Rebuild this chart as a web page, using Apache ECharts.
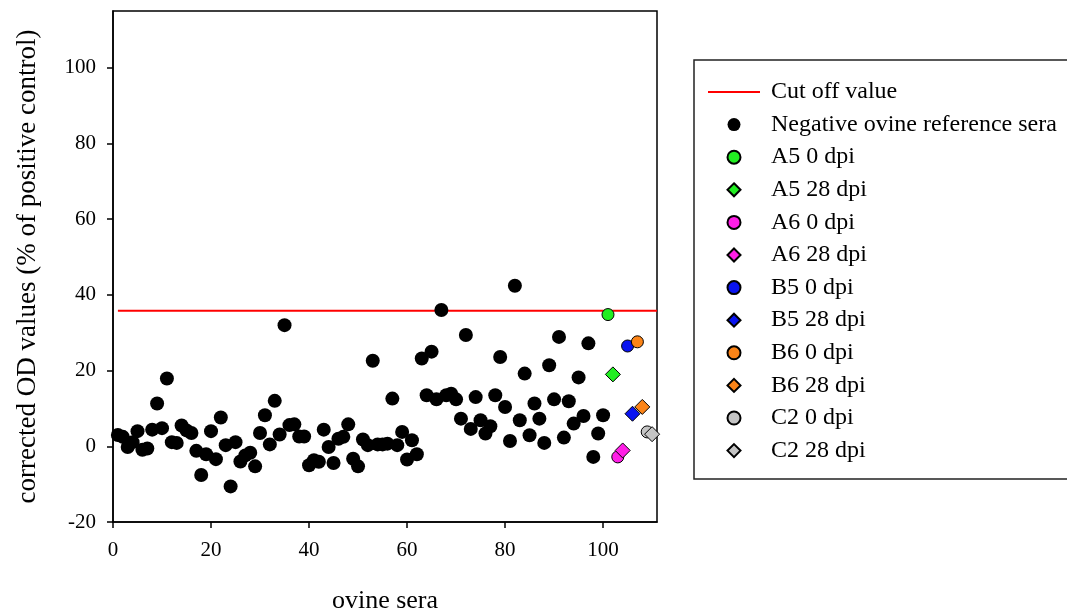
<!DOCTYPE html>
<html>
<head>
    <meta charset="utf-8">
    <title>ovine sera</title>
    <script src="https://cdn.jsdelivr.net/npm/echarts@6/dist/echarts.min.js"></script>
</head>
<body style="margin:0">
    <div id="main" style="width:1067px;height:612px;"></div>
    <script type="text/javascript">
        // negative reference sera, serum no. 1..100
        var negValues = [
            3, 2.5, -0.2, 1.1, 4, -0.9, -0.6, 4.4, 11.3, 4.8,
            17.9, 1.1, 0.9, 5.5, 4.2, 3.5, -1.2, -7.6, -2.1, 4,
            -3.4, 7.6, 0.3, -10.6, 1.1, -4, -2.4, -1.7, -5.3, 3.5,
            8.2, 0.5, 12, 3.1, 32, 5.6, 5.8, 2.6, 2.6, -5,
            -3.7, -4.1, 4.4, -0.2, -4.4, 2, 2.5, 5.8, -3.3, -5.3,
            1.8, 0.3, 22.6, 0.5, 0.5, 0.7, 12.6, 0.3, 3.8, -3.5,
            1.6, -2.1, 23.2, 13.5, 25, 12.4, 36, 13.5, 13.9, 12.4,
            7.3, 29.4, 4.6, 13, 6.9, 3.4, 5.3, 13.5, 23.6, 10.4,
            1.4, 42.4, 6.9, 19.2, 2.9, 11.3, 7.3, 0.9, 21.4, 12.4,
            28.9, 2.3, 11.9, 6, 18.2, 8, 27.2, -2.8, 3.4, 8.2
        ];

        // test animals
        var sampleNames = ['A5 0 dpi', 'A5 28 dpi', 'A6 0 dpi', 'A6 28 dpi', 'B5 0 dpi',
                           'B5 28 dpi', 'B6 0 dpi', 'B6 28 dpi', 'C2 0 dpi', 'C2 28 dpi'];
        var sampleX = [101, 102, 103, 104, 105, 106, 107, 108, 109, 110];
        var sampleY = [34.8, 19, -2.8, -1.1, 26.5, 8.6, 27.6, 10.4, 3.8, 3.2];

        var cutOff = 35.8;
        var cutOffRange = [1, 111];

        var xTicks = [0, 20, 40, 60, 80, 100];
        var yTicks = [-20, 0, 20, 40, 60, 80, 100];

        // styles
        var sampleColors = ['#22ee22', '#22ee22', '#ff1ee6', '#ff1ee6', '#0a14f0',
                            '#0a14f0', '#fb8418', '#fb8418', '#c4c4c4', '#c4c4c4'];
        var FONT = 'Liberation Serif';

        var myChart = echarts.init(document.getElementById('main'));

        var series = [{
            name: 'Cut off value',
            type: 'line',
            symbol: 'none',
            silent: true,
            data: cutOffRange.map(function (x) { return [x, cutOff]; }),
            lineStyle: { color: '#ff0000', width: 2 },
            itemStyle: { color: '#ff0000' },
            z: 1
        }, {
            name: 'Negative ovine reference sera',
            type: 'scatter',
            symbol: 'circle',
            symbolSize: 14,
            data: negValues.map(function (v, i) { return [i + 1, v]; }),
            itemStyle: { color: '#000', opacity: 1 },
            z: 2
        }];

        var legendData = [
            { name: 'Cut off value', icon: 'path://M0,0H52V2H0Z' },
            { name: 'Negative ovine reference sera' }
        ];

        for (var i = 0; i < sampleNames.length; i++) {
            var isDay0 = i % 2 === 0;
            series.push({
                name: sampleNames[i],
                type: 'scatter',
                symbol: isDay0 ? 'circle' : 'diamond',
                symbolSize: isDay0 ? 12 : 15,
                symbolKeepAspect: true,
                data: [[sampleX[i], sampleY[i]]],
                itemStyle: { color: sampleColors[i], borderColor: '#000', borderWidth: 1, opacity: 1 },
                z: 3
            });
            legendData.push({ name: sampleNames[i], icon: isDay0 ? 'circle' : 'path://M7,0L14,7L7,14L0,7Z' });
        }

        var option = {
            backgroundColor: '#fff',
            animation: false,
            grid: {
                left: 113, right: 410, top: 11, bottom: 90,
                outerBoundsMode: 'none',
                containLabel: false,
                show: true, borderColor: '#000', borderWidth: 1.5, backgroundColor: 'transparent'
            },
            legend: {
                orient: 'vertical',
                left: 708,
                top: 80,
                padding: 0,
                itemWidth: 52,
                itemHeight: 13,
                itemGap: 8.6,
                symbolKeepAspect: true,
                selectedMode: false,
                textStyle: { fontFamily: FONT, fontSize: 24, color: '#000', width: 240, overflow: 'none', padding: [0, 0, 0, 6] },
                data: legendData
            },
            graphic: [{
                type: 'rect',
                shape: { x: 694, y: 60, width: 420, height: 419 },
                style: { fill: 'none', stroke: '#222', lineWidth: 1.5 },
                silent: true
            }],
            xAxis: {
                type: 'value',
                min: 0,
                max: 111,
                name: 'ovine sera',
                nameLocation: 'middle',
                nameGap: 66,
                nameTextStyle: { fontFamily: FONT, fontSize: 26, color: '#000' },
                axisLine: { onZero: false, lineStyle: { color: '#000', width: 1.5 } },
                axisTick: { show: true, length: 6, customValues: xTicks, lineStyle: { color: '#000', width: 1.5 } },
                axisLabel: { customValues: xTicks, margin: 18, fontFamily: FONT, fontSize: 21, color: '#000' },
                splitLine: { show: false }
            },
            yAxis: {
                type: 'value',
                min: -20,
                max: 115,
                name: 'corrected OD values (% of positive control)',
                nameLocation: 'middle',
                nameRotate: 90,
                nameGap: 72,
                nameTextStyle: { fontFamily: FONT, fontSize: 27, color: '#000' },
                axisLine: { onZero: false, lineStyle: { color: '#000', width: 1.5 } },
                axisTick: { show: true, length: 6, customValues: yTicks, lineStyle: { color: '#000', width: 1.5 } },
                axisLabel: { customValues: yTicks, margin: 17, fontFamily: FONT, fontSize: 21, color: '#000' },
                splitLine: { show: false }
            },
            series: series
        };

        myChart.setOption(option);
    </script>
</body>
</html>
